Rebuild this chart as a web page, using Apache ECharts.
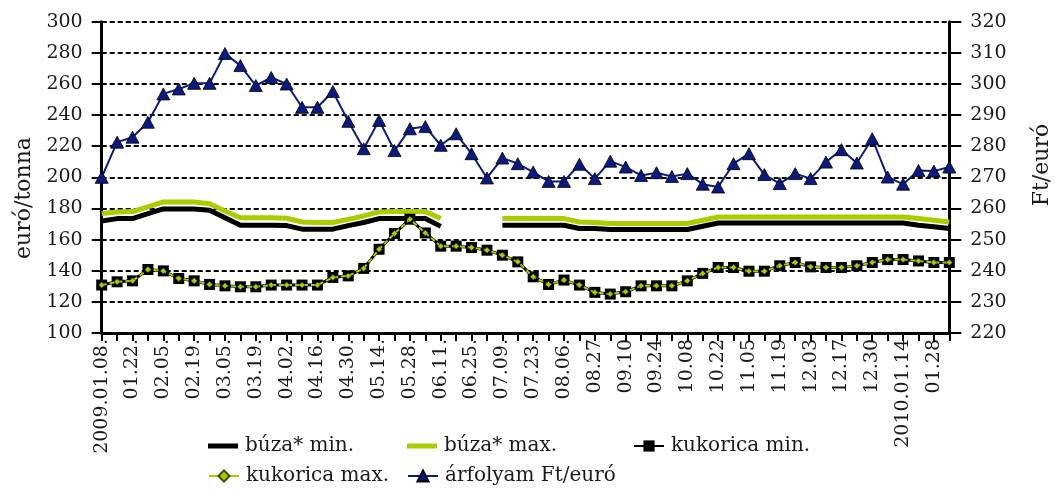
<!DOCTYPE html>
<html>
<head>
<meta charset="utf-8">
<script src="https://cdn.jsdelivr.net/npm/echarts@6/dist/echarts.min.js"></script>
<style>
html,body{margin:0;padding:0;background:#fff;}
#chart{width:1055px;height:490px;}
</style>
</head>
<body>
<div id="chart"></div>
<script>
const categories = ['2009.01.08.','01.15.','01.22.','01.29.','02.05.','02.12.','02.19.','02.26.','03.05.','03.12.',
  '03.19.','03.26.','04.02.','04.09.','04.16.','04.23.','04.30.','05.07.','05.14.','05.21.',
  '05.28.','06.04.','06.11.','06.18.','06.25.','07.02.','07.09.','07.16.','07.23.','07.30.',
  '08.06.','08.13','08.27','09.03','09.10','09.17','09.24','10.01','10.08','10.15',
  '10.22','10.29','11.05','11.12','11.19','11.26','12.03','12.10','12.17','12.23',
  '12.30','2010.01.07','2010.01.14','01.21','01.28','02.04'];

const buzaMin = [172,173.5,173.5,176.7,179.7,179.7,179.7,178.8,174,169.2,
  169.2,169.2,169,166.7,166.7,166.7,169,171,173.5,173.5,
  173.5,173.5,168.5,null,null,null,169.2,169.2,169.2,169.2,
  169.2,167.1,167.1,166.5,166.5,166.5,166.5,166.5,166.5,168.6,
  170.7,170.7,170.7,170.7,170.7,170.7,170.7,170.7,170.7,170.7,
  170.7,170.7,170.7,169.2,168.2,167.1];

const buzaMax = [176.7,177.8,178,181,184.2,184.2,184.2,183.1,178.4,174,
  174,174,173.7,171.3,171,171,173,175.2,177.8,178,
  178,178,173.5,null,null,null,173.5,173.5,173.5,173.5,
  173.5,171.3,171,170.4,170.4,170.4,170.4,170.4,170.4,172.4,
  174.5,174.5,174.5,174.5,174.5,174.5,174.5,174.5,174.5,174.5,
  174.5,174.5,174.5,173.5,172.4,171.3];

const kukoricaMin = [130.8,132.9,133.5,140.8,139.9,135,133.5,131.2,130.3,129.7,
  129.7,130.8,130.8,130.8,130.8,135.7,136.7,141.5,153.8,163.9,
  173.1,164.3,155.8,155.8,154.9,153.2,150,145.7,136.1,131.2,
  134,130.8,126.1,125,126.5,130.3,130.3,130.3,133.5,138.3,
  142.1,142.1,139.7,139.7,143.2,145.3,142.5,142.1,142.1,143.2,
  145.3,147.2,147.2,146.3,145.3,145.3];

const kukoricaMax = [130.8,132.9,133.5,140.8,139.9,135,133.5,131.2,130.3,129.7,
  129.7,130.8,130.8,130.8,130.8,135.7,136.7,141.5,153.8,163.9,
  173.1,164.3,155.8,155.8,154.9,153.2,150,145.7,136.1,131.2,
  134,130.8,126.1,125,126.5,130.3,130.3,130.3,133.5,138.3,
  142.1,142.1,139.7,139.7,143.2,145.3,142.5,142.1,142.1,143.2,
  145.3,147.2,147.2,146.3,145.3,145.3];

const arfolyam = [270,281.3,282.9,287.7,296.8,298.4,300.2,300.2,309.8,305.9,
  299.5,302.1,300,292.5,292.5,297.6,288,279.2,288.3,278.6,
  285.6,286.3,280.3,284,277.6,269.8,276.2,274.4,271.7,268.7,
  268.7,274.2,269.6,275.2,273.3,270.6,271.5,270.3,271.2,267.8,
  266.9,274.4,277.6,270.9,268,271.2,269.6,274.9,278.9,274.6,
  282.4,270.1,267.8,272.2,272,273.3];

const seriesNames = ['búza* min.','búza* max.','kukorica min.','kukorica max.','árfolyam Ft/euró'];
const leftAxisName = 'euró/tonna';
const rightAxisName = 'Ft/euró';

const FONT = 'DejaVu Serif';
const TXT = '#1a1a1a';
const GREEN = '#aacc00';
const NAVY = '#0b1a80';

const chart = echarts.init(document.getElementById('chart'), null, {renderer:'canvas'});

function legendAt(name, left, top, opts) {
  return Object.assign({
    data: [name], left: left, top: top, padding: 0,
    itemWidth: 30, itemHeight: 14, itemGap: 0,
    textStyle: {fontFamily: FONT, fontSize: 20, color: TXT, padding: [0,0,0,2]},
    lineStyle: {type: 'solid'},
    selectedMode: false
  }, opts || {});
}

const option = {
  animation: false,
  backgroundColor: '#fff',
  grid: {left: 101.7, right: 105.7, top: 21.7, bottom: 157, containLabel: false},
  legend: [
    legendAt(seriesNames[0], 208, 436, {icon: 'rect', itemHeight: 5}),
    legendAt(seriesNames[1], 407, 436, {icon: 'rect', itemHeight: 5}),
    legendAt(seriesNames[2], 633, 436),
    legendAt(seriesNames[3], 208, 466),
    legendAt(seriesNames[4], 407, 466)
  ],
  graphic: [
    {type:'text', x: 24, y: 198, rotation: Math.PI/2,
     style:{text: leftAxisName, font: '22px "DejaVu Serif"', fill: TXT, align:'center', verticalAlign:'middle'}},
    {type:'text', x: 1042, y: 165, rotation: Math.PI/2,
     style:{text: rightAxisName, font: '22px "DejaVu Serif"', fill: TXT, align:'center', verticalAlign:'middle'}}
  ],
  xAxis: {
    type: 'category', data: categories, boundaryGap: false,
    axisLine: {show: true, lineStyle: {color: '#000', width: 3}},
    axisTick: {show: true, interval: 0, length: 8, lineStyle: {color: '#000', width: 2}},
    axisLabel: {interval: 1, rotate: 90, margin: 6, fontFamily: FONT, fontSize: 19, color: TXT},
    splitLine: {show: false}
  },
  yAxis: [
    {
      type: 'value', min: 100, max: 300, interval: 20, position: 'left',
      axisLine: {show: true, lineStyle: {color: '#000', width: 3}},
      axisTick: {show: true, length: 10, lineStyle: {color: '#000', width: 2}},
      axisLabel: {margin: 19, fontFamily: FONT, fontSize: 19, color: TXT},
      splitLine: {show: true, lineStyle: {color: '#000', width: 2, type: [5,3]}}
    },
    {
      type: 'value', min: 220, max: 320, interval: 10, position: 'right',
      axisLine: {show: true, lineStyle: {color: '#000', width: 3}},
      axisTick: {show: true, length: 12, lineStyle: {color: '#000', width: 2}},
      axisLabel: {margin: 21, fontFamily: FONT, fontSize: 19, color: TXT},
      splitLine: {show: false}
    }
  ],
  series: [
    {name: seriesNames[0], type: 'line', data: buzaMin, symbol: 'none', connectNulls: false,
     lineStyle: {color: '#000', width: 5}, itemStyle: {color: '#000'}, z: 2},
    {name: seriesNames[1], type: 'line', data: buzaMax, symbol: 'none', connectNulls: false,
     lineStyle: {color: GREEN, width: 5}, itemStyle: {color: GREEN}, z: 2},
    {name: seriesNames[2], type: 'line', data: kukoricaMin, symbol: 'rect', symbolSize: 11, showAllSymbol: true,
     lineStyle: {color: '#000', width: 3}, itemStyle: {color: '#000'}, z: 3},
    {name: seriesNames[3], type: 'line', data: kukoricaMax, symbol: 'diamond', symbolSize: 6, showAllSymbol: true,
     lineStyle: {color: GREEN, width: 2, type: [5,3]}, itemStyle: {color: GREEN, borderColor: '#3d4a00', borderWidth: 0.6}, z: 4},
    {name: seriesNames[4], type: 'line', yAxisIndex: 1, data: arfolyam, symbol: 'triangle', symbolSize: [13,12], showAllSymbol: true,
     lineStyle: {color: NAVY, width: 2}, itemStyle: {color: NAVY, borderColor: '#000', borderWidth: 0.8}, z: 5}
  ]
};
chart.setOption(option);
</script>
</body>
</html>
